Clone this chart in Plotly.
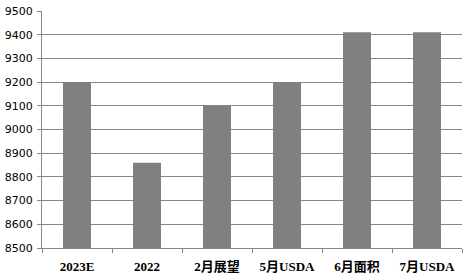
import plotly.graph_objects as go

categories = ["2023E", "2022", "2月展望", "5月USDA", "6月面积", "7月USDA"]
values = [9200, 8860, 9100, 9200, 9410, 9410]
y_ticks = list(range(8500, 9501, 100))

fig = go.Figure(go.Bar(x=categories, y=values, marker=dict(color="#808080", line=dict(width=0)),
                       width=0.4))
fig.update_layout(
    width=467, height=279,
    margin=dict(l=41, r=5, t=9, b=31),
    paper_bgcolor="white", plot_bgcolor="white",
    showlegend=False,
)
fig.update_yaxes(range=[8500, 9500], tickvals=y_ticks, ticktext=[str(v) for v in y_ticks],
                 showgrid=True, gridcolor="#868686", gridwidth=1,
                 showline=True, linecolor="#868686", linewidth=1,
                 ticks="outside", ticklen=4, tickcolor="#868686",
                 tickfont=dict(family="DejaVu Sans", size=11, color="black"),
                 ticklabelstandoff=2,
                 zeroline=False)
fig.update_xaxes(showline=True, linecolor="#868686", linewidth=1,
                 ticks="outside", ticklen=4, tickcolor="#868686", tickson="boundaries",
                 tickfont=dict(family="Liberation Serif, Noto Sans CJK SC", size=13, color="black", weight="bold"),
                 ticklabelstandoff=6,
                 showgrid=False)
fig.write_html("out.html")
